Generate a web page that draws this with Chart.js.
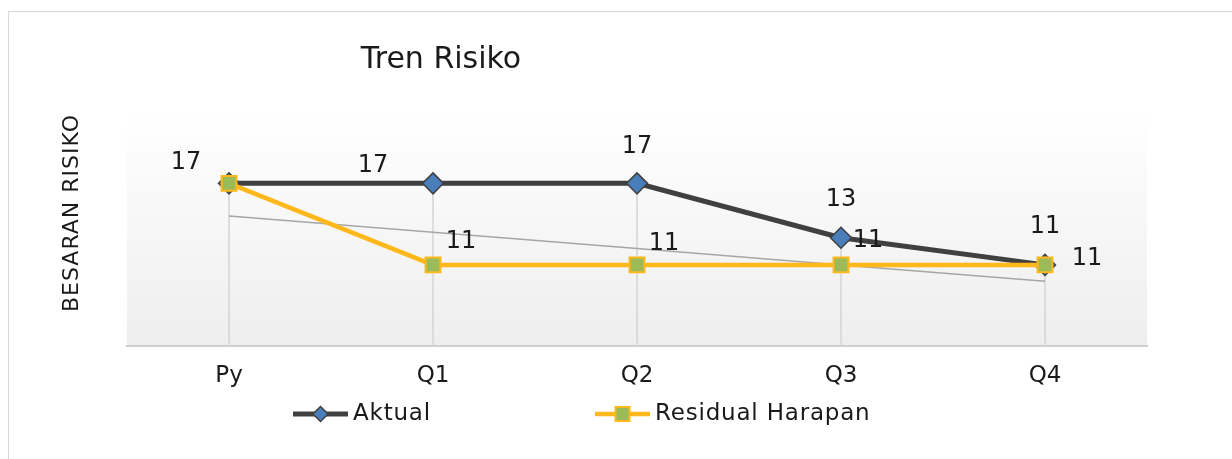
<!DOCTYPE html>
<html>
<head>
<meta charset="utf-8">
<script src="https://cdn.jsdelivr.net/npm/chart.js@4.4.1/dist/chart.umd.min.js"></script>
<style>
  html, body { margin: 0; padding: 0; background: #fff; overflow: hidden; }
  .card { position: absolute; left: 8px; top: 11px; width: 1300px; height: 500px;
          border-top: 1px solid #d9d9d9; border-left: 1px solid #d9d9d9; }
  .wrap { position: absolute; left: 0; top: 0; width: 1232px; height: 459px; }
</style>
</head>
<body>
<div class="card"></div>
<div class="wrap"><canvas id="riskChart"></canvas></div>
<script>
// data
const quarters = ['Py', 'Q1', 'Q2', 'Q3', 'Q4'];
const aktual = [17, 17, 17, 13, 11];
const residualHarapan = [17, 11, 11, 11, 11];
// linear trendline of Residual Harapan
const trendResidual = [14.6, 13.4, 12.2, 11.0, 9.8];

// where each value label sits relative to its point (null = no label)
const aktualLabelOffsets = [[-43, -21], [-60, -18], [0, -37], [0, -38], [0, -38]];
const residualLabelOffsets = [null, [28, -23], [27, -21], [27, -24], [42, -6]];

const FONT = '"DejaVu Sans", "Noto Sans", sans-serif';
const TEXT = '#1a1a1a';

document.addEventListener('DOMContentLoaded', () => {
    const canvas = document.getElementById('riskChart');

    const decor = {
        id: 'decor',
        beforeDraw(chart) {
            // soft vertical gradient behind the plot
            const { ctx, chartArea: a } = chart;
            const g = ctx.createLinearGradient(0, a.top, 0, a.bottom);
            g.addColorStop(0, '#ffffff');
            g.addColorStop(1, '#eeeeee');
            ctx.save();
            ctx.fillStyle = g;
            ctx.fillRect(a.left, a.top, a.right - a.left, a.bottom - a.top);
            ctx.restore();
        },
        beforeDatasetsDraw(chart) {
            // drop lines from the highest point down to the axis
            const { ctx, scales: { x, y } } = chart;
            ctx.save();
            ctx.strokeStyle = '#d4d4d4';
            ctx.lineWidth = 1.5;
            quarters.forEach((q, i) => {
                const top = Math.max(aktual[i], residualHarapan[i]);
                const px = x.getPixelForValue(i);
                ctx.beginPath();
                ctx.moveTo(px, y.getPixelForValue(top));
                ctx.lineTo(px, y.bottom);
                ctx.stroke();
            });
            ctx.restore();
        },
        afterDatasetsDraw(chart) {
            const { ctx } = chart;
            ctx.save();
            ctx.font = '24px ' + FONT;
            ctx.fillStyle = TEXT;
            ctx.textAlign = 'center';
            ctx.textBaseline = 'middle';
            [[0, aktual, aktualLabelOffsets], [1, residualHarapan, residualLabelOffsets]].forEach(([di, values, offs]) => {
                const meta = chart.getDatasetMeta(di);
                meta.data.forEach((pt, i) => {
                    if (!offs[i]) return;
                    ctx.fillText(String(values[i]), pt.x + offs[i][0], pt.y + offs[i][1]);
                });
            });
            ctx.restore();
        },
        afterDraw(chart) {
            const { ctx } = chart;
            ctx.save();
            // chart title
            ctx.fillStyle = TEXT;
            ctx.font = '30px ' + FONT;
            ctx.textAlign = 'center';
            ctx.textBaseline = 'middle';
            ctx.fillText('Tren Risiko', 441, 60);

            // vertical axis title
            ctx.save();
            ctx.translate(72, 213);
            ctx.rotate(-Math.PI / 2);
            ctx.font = '22px ' + FONT;
            ctx.letterSpacing = '1px';
            ctx.fillText('BESARAN RISIKO', 0, 0);
            ctx.restore();

            // legend: line + marker, then the name
            const items = [0, 1];
            const startX = 293, slot = 302, ly = 414, iconW = 55;
            ctx.letterSpacing = '0.8px';
            items.forEach((di, k) => {
                const ds = chart.data.datasets[di];
                const x0 = startX + k * slot;
                ctx.strokeStyle = ds.borderColor;
                ctx.lineWidth = ds.borderWidth;
                ctx.beginPath();
                ctx.moveTo(x0, ly);
                ctx.lineTo(x0 + iconW, ly);
                ctx.stroke();
                const cx = x0 + iconW / 2;
                ctx.fillStyle = ds.pointBackgroundColor;
                ctx.strokeStyle = ds.pointBorderColor;
                ctx.lineWidth = ds.pointBorderWidth;
                ctx.beginPath();
                if (ds.pointStyle === 'rectRot') {
                    const r = 7.5;
                    ctx.moveTo(cx, ly - r);
                    ctx.lineTo(cx + r, ly);
                    ctx.lineTo(cx, ly + r);
                    ctx.lineTo(cx - r, ly);
                    ctx.closePath();
                } else {
                    ctx.rect(cx - 7, ly - 7, 14, 14);
                }
                ctx.fill();
                ctx.stroke();
                ctx.fillStyle = TEXT;
                ctx.font = '23px ' + FONT;
                ctx.textAlign = 'left';
                ctx.fillText(ds.label, x0 + iconW + 5, ly);
            });
            ctx.restore();
        }
    };

    new Chart(canvas, {
        type: 'line',
        data: {
            labels: quarters,
            datasets: [
                {
                    label: 'Aktual',
                    data: aktual,
                    order: 1,
                    borderColor: '#404040',
                    borderWidth: 5,
                    pointStyle: 'rectRot',
                    pointRadius: 10.5,
                    pointBackgroundColor: '#4a7ebb',
                    pointBorderColor: '#404040',
                    pointBorderWidth: 1.5,
                    tension: 0
                },
                {
                    label: 'Residual Harapan',
                    data: residualHarapan,
                    order: 0,
                    borderColor: '#ffb81c',
                    borderWidth: 4.5,
                    pointStyle: 'rect',
                    pointRadius: 10.5,
                    pointBackgroundColor: '#9bbb59',
                    pointBorderColor: '#ffb81c',
                    pointBorderWidth: 2,
                    tension: 0
                },
                {
                    label: 'Linear (Residual Harapan)',
                    data: trendResidual,
                    order: 2,
                    borderColor: '#a6a6a6',
                    borderWidth: 1.5,
                    pointRadius: 0,
                    tension: 0
                }
            ]
        },
        options: {
            responsive: true,
            maintainAspectRatio: false,
            animation: false,
            events: [],
            layout: { padding: { left: 127, right: 85, top: 110, bottom: 61 } },
            scales: {
                x: {
                    offset: true,
                    grid: { display: false },
                    border: { display: true, color: '#d0d0d0', width: 2 },
                    ticks: {
                        color: TEXT,
                        padding: 8,
                        font: { family: FONT, size: 23 }
                    }
                },
                y: {
                    display: false,
                    min: 5,
                    max: 22.4
                }
            },
            plugins: {
                legend: { display: false },
                title: { display: false },
                tooltip: { enabled: false }
            }
        },
        plugins: [decor]
    });
});
</script>
</body>
</html>
